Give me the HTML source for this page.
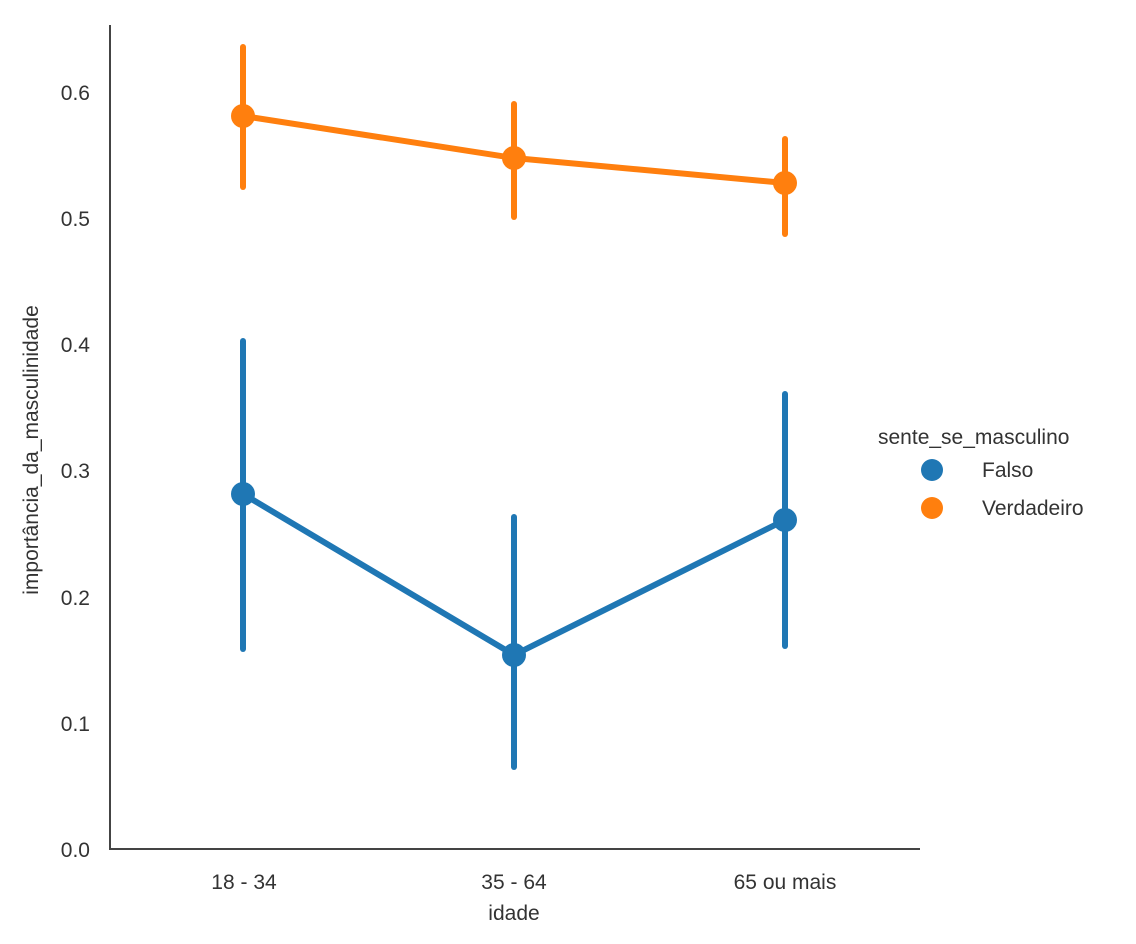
<!DOCTYPE html>
<html><head><meta charset="utf-8"><style>
html,body{margin:0;padding:0;background:#fff;}
svg{display:block;font-family:"Liberation Sans",sans-serif;}
</style></head><body>
<svg width="1136" height="944" viewBox="0 0 1136 944" xmlns="http://www.w3.org/2000/svg">
<rect width="1136" height="944" fill="#fff"/>
<g stroke="#444" stroke-width="2" fill="none">
<line x1="110" y1="25" x2="110" y2="849"/>
<line x1="109" y1="849" x2="920" y2="849"/>
</g>
<g fill="#333" font-size="21" text-anchor="end">
<text x="90" y="857">0.0</text>
<text x="90" y="731">0.1</text>
<text x="90" y="605">0.2</text>
<text x="90" y="478">0.3</text>
<text x="90" y="352">0.4</text>
<text x="90" y="226">0.5</text>
<text x="90" y="100">0.6</text>
</g>
<g fill="#333" font-size="21" text-anchor="middle">
<text x="244" y="889">18 - 34</text>
<text x="514" y="889">35 - 64</text>
<text x="785" y="889">65 ou mais</text>
<text x="514" y="920">idade</text>
<text transform="translate(38,450) rotate(-90)">importância_da_masculinidade</text>
</g>
<g stroke="#ff7f0e" stroke-width="6" stroke-linecap="round" fill="none">
<line x1="243" y1="47" x2="243" y2="187"/>
<line x1="514" y1="104" x2="514" y2="217"/>
<line x1="785" y1="139" x2="785" y2="234"/>
<polyline points="243,116 514,158 785,183"/>
</g>
<g fill="#ff7f0e"><circle cx="243" cy="116" r="12"/><circle cx="514" cy="158" r="12"/><circle cx="785" cy="183" r="12"/></g>
<g stroke="#1f77b4" stroke-width="6" stroke-linecap="round" fill="none">
<line x1="243" y1="341" x2="243" y2="649"/>
<line x1="514" y1="517" x2="514" y2="767"/>
<line x1="785" y1="394" x2="785" y2="646"/>
<polyline points="243,494 514,655 785,520"/>
</g>
<g fill="#1f77b4"><circle cx="243" cy="494" r="12"/><circle cx="514" cy="655" r="12"/><circle cx="785" cy="520" r="12"/></g>
<text x="878" y="444" font-size="21" fill="#333">sente_se_masculino</text>
<circle cx="932" cy="470" r="11" fill="#1f77b4"/>
<circle cx="932" cy="508" r="11" fill="#ff7f0e"/>
<text x="982" y="477" font-size="21" fill="#333">Falso</text>
<text x="982" y="515" font-size="21" fill="#333">Verdadeiro</text>
</svg>
</body></html>
